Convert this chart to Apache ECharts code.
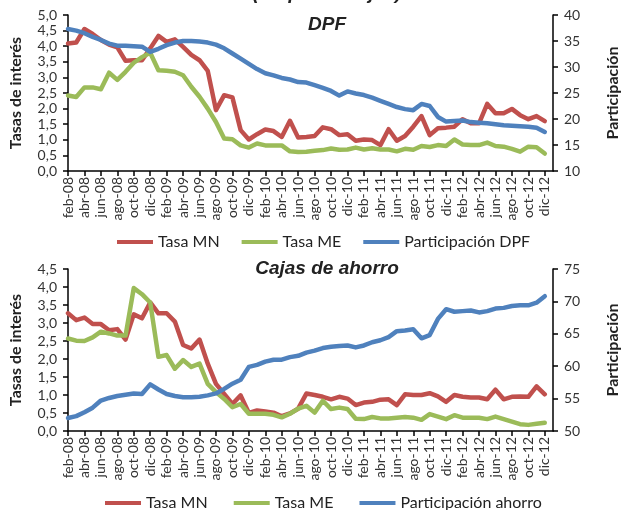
<!DOCTYPE html>
<html>
<head>
<meta charset="utf-8">
<script src="https://cdn.jsdelivr.net/npm/echarts@6/dist/echarts.min.js"></script>
<style>
  html, body { margin: 0; padding: 0; background: #fff; }
  #chart { width: 629px; height: 510px; }
</style>
</head>
<body>
<div id="chart"></div>
<script>
// month labels feb-08 ... ene-13 (last slot has no data)
const monthNames = ['ene', 'feb', 'mar', 'abr', 'may', 'jun', 'jul', 'ago', 'sep', 'oct', 'nov', 'dic']
const years = ['08', '09', '10', '11', '12', '13']

// DPF
const dpfMN = [
  4.09, 4.12, 4.55, 4.39, 4.20, 4.05, 3.96, 3.53, 3.55, 3.55,
  3.93, 4.33, 4.14, 4.22, 3.98, 3.72, 3.55, 3.21, 1.95, 2.43,
  2.36, 1.31, 1.01, 1.18, 1.33, 1.28, 1.09, 1.61, 1.07, 1.09,
  1.12, 1.40, 1.34, 1.15, 1.18, 0.97, 1.01, 0.99, 0.83, 1.34,
  0.97, 1.12, 1.42, 1.76, 1.15, 1.37, 1.39, 1.42, 1.66, 1.53,
  1.53, 2.15, 1.85, 1.85, 1.99, 1.79, 1.66, 1.76, 1.60
]
const dpfME = [
  2.42, 2.37, 2.68, 2.68, 2.62, 3.15, 2.92, 3.18, 3.47, 3.65,
  3.79, 3.23, 3.21, 3.18, 3.07, 2.70, 2.38, 2.00, 1.57, 1.04,
  1.02, 0.82, 0.75, 0.88, 0.82, 0.82, 0.82, 0.63, 0.61, 0.62,
  0.65, 0.67, 0.72, 0.68, 0.69, 0.75, 0.69, 0.73, 0.69, 0.69,
  0.63, 0.71, 0.68, 0.80, 0.77, 0.83, 0.80, 1.01, 0.85, 0.83,
  0.83, 0.91, 0.80, 0.78, 0.71, 0.62, 0.78, 0.76, 0.56
]
const dpfPart = [
  37.3, 37.0, 36.5, 35.8, 35.2, 34.5, 34.1, 34.1, 34.0, 33.9,
  32.9, 33.5, 34.2, 34.7, 35.0, 35.0, 34.9, 34.7, 34.3, 33.6,
  32.6, 31.6, 30.6, 29.6, 28.8, 28.4, 27.9, 27.6, 27.1, 27.0,
  26.5, 26.0, 25.4, 24.5, 25.3, 24.9, 24.6, 24.1, 23.5, 22.9,
  22.3, 21.9, 21.7, 22.9, 22.5, 20.4, 19.5, 19.6, 19.7, 19.4,
  19.3, 19.2, 19.0, 18.8, 18.7, 18.6, 18.5, 18.3, 17.5
]

// Cajas de ahorro
const cajaMN = [
  3.27, 3.08, 3.15, 2.97, 2.97, 2.80, 2.83, 2.54, 3.24, 3.13,
  3.57, 3.27, 3.27, 3.04, 2.39, 2.29, 2.54, 1.87, 1.31, 1.03,
  0.75, 0.99, 0.50, 0.57, 0.54, 0.51, 0.41, 0.49, 0.62, 1.04,
  1.00, 0.95, 0.88, 0.95, 0.90, 0.72, 0.79, 0.81, 0.87, 0.88,
  0.72, 1.02, 1.00, 1.00, 1.05, 0.96, 0.81, 1.00, 0.95, 0.93,
  0.93, 0.88, 1.15, 0.88, 0.95, 0.96, 0.95, 1.24, 1.02
]
const cajaME = [
  2.57, 2.51, 2.50, 2.60, 2.76, 2.71, 2.65, 2.65, 3.97, 3.80,
  3.57, 2.06, 2.11, 1.73, 1.97, 1.78, 1.87, 1.31, 1.08, 0.89,
  0.66, 0.75, 0.48, 0.48, 0.48, 0.45, 0.38, 0.48, 0.62, 0.70,
  0.51, 0.84, 0.61, 0.65, 0.61, 0.34, 0.33, 0.39, 0.35, 0.35,
  0.37, 0.39, 0.37, 0.31, 0.47, 0.40, 0.33, 0.44, 0.37, 0.37,
  0.37, 0.33, 0.40, 0.33, 0.26, 0.19, 0.17, 0.20, 0.23
]
const cajaPart = [
  52.0, 52.3, 52.9, 53.6, 54.7, 55.1, 55.4, 55.6, 55.8, 55.7,
  57.2, 56.4, 55.7, 55.4, 55.2, 55.2, 55.3, 55.5, 55.8, 56.5,
  57.3, 57.9, 59.9, 60.2, 60.7, 61.0, 61.0, 61.4, 61.6, 62.1,
  62.4, 62.8, 63.0, 63.1, 63.2, 62.9, 63.2, 63.7, 64.0, 64.5,
  65.4, 65.5, 65.7, 64.3, 64.8, 67.3, 68.8, 68.4, 68.5, 68.6,
  68.3, 68.5, 68.9, 69.0, 69.3, 69.4, 69.4, 69.8, 70.8
]

const categories = []
years.forEach((y, yi) => {
  monthNames.forEach((m, mi) => {
    if (yi === 0 && mi === 0) return
    if (yi === years.length - 1 && mi > 0) return
    categories.push(m + '-' + y)
  })
})

const RED = '#C0504D'
const GREEN = '#9BBB59'
const BLUE = '#4F81BD'
const FONT = 'Lato, Carlito, Calibri, sans-serif'
const TITLE_FONT = '"Liberation Sans", Arial, sans-serif'

const chart = echarts.init(document.getElementById('chart'))

const comma = v => v.toFixed(1).replace('.', ',')

function xAxisFor(gridIndex) {
  return {
    type: 'category',
    gridIndex,
    data: categories,
    boundaryGap: false,
    axisLine: { lineStyle: { color: '#000', width: 1.5 } },
    axisTick: { interval: 1, length: 5, lineStyle: { color: '#000', width: 1.5 } },
    axisLabel: { interval: 1, rotate: 90, margin: 6, color: '#333', fontSize: 14, fontFamily: FONT },
    splitLine: { show: false }
  }
}

function yAxisFor(gridIndex, pos, min, max, interval, name, fmt) {
  return {
    type: 'value',
    gridIndex,
    position: pos,
    min, max, interval,
    name,
    nameLocation: 'middle',
    nameRotate: 90,
    nameGap: pos === 'left' ? 44 : 52,
    nameTextStyle: { fontFamily: FONT, fontWeight: 'bold', fontSize: 16, color: '#222' },
    axisLine: { show: true, lineStyle: { color: '#000', width: 1.5 } },
    axisTick: { show: true, length: 5, lineStyle: { color: '#000', width: 1.5 } },
    axisLabel: { margin: 11, color: '#333', fontSize: 14, fontFamily: FONT, formatter: fmt },
    splitLine: { show: false }
  }
}

function lineSeries(name, data, color, xi, yi) {
  return {
    name, type: 'line', data,
    xAxisIndex: xi, yAxisIndex: yi,
    showSymbol: false, symbol: 'none',
    lineStyle: { color, width: 4.5, cap: 'round', join: 'round' },
    itemStyle: { color },
    emphasis: { disabled: true }
  }
}

const legendBase = {
  icon: 'rect',
  itemWidth: 36,
  itemHeight: 4,
  itemGap: 22,
  textStyle: { fontFamily: FONT, fontSize: 16, color: '#222' }
}

chart.setOption({
  animation: false,
  title: [
    { text: '(En porcentajes)', left: 322, top: -21, textAlign: 'center',
      textStyle: { fontFamily: TITLE_FONT, fontStyle: 'italic', fontWeight: 'bold', fontSize: 19, color: '#222' } },
    { text: 'DPF', left: 322, top: 10, textAlign: 'center',
      textStyle: { fontFamily: TITLE_FONT, fontStyle: 'italic', fontWeight: 'bold', fontSize: 19, color: '#222' } },
    { text: 'Cajas de ahorro', left: 322, top: 254, textAlign: 'center',
      textStyle: { fontFamily: TITLE_FONT, fontStyle: 'italic', fontWeight: 'bold', fontSize: 19, color: '#222' } }
  ],
  legend: [
    Object.assign({}, legendBase, { left: 112, top: 229, data: ['Tasa MN', 'Tasa ME', 'Participación DPF'] }),
    Object.assign({}, legendBase, { left: 100, top: 490, data: ['Tasa MN ', 'Tasa ME ', 'Participación ahorro'] })
  ],
  grid: [
    { left: 68, width: 507, top: 15, height: 156 },
    { left: 68, width: 507, top: 269, height: 162 }
  ],
  xAxis: [xAxisFor(0), xAxisFor(1)],
  yAxis: [
    yAxisFor(0, 'left', 0, 5, 0.5, 'Tasas de interés', comma),
    yAxisFor(0, 'right', 10, 40, 5, 'Participación'),
    yAxisFor(1, 'left', 0, 4.5, 0.5, 'Tasas de interés', comma),
    yAxisFor(1, 'right', 50, 75, 5, 'Participación')
  ],
  series: [
    lineSeries('Tasa MN', dpfMN, RED, 0, 0),
    lineSeries('Tasa ME', dpfME, GREEN, 0, 0),
    lineSeries('Participación DPF', dpfPart, BLUE, 0, 1),
    lineSeries('Tasa MN ', cajaMN, RED, 1, 2),
    lineSeries('Tasa ME ', cajaME, GREEN, 1, 2),
    lineSeries('Participación ahorro', cajaPart, BLUE, 1, 3)
  ]
})
</script>
</body>
</html>
